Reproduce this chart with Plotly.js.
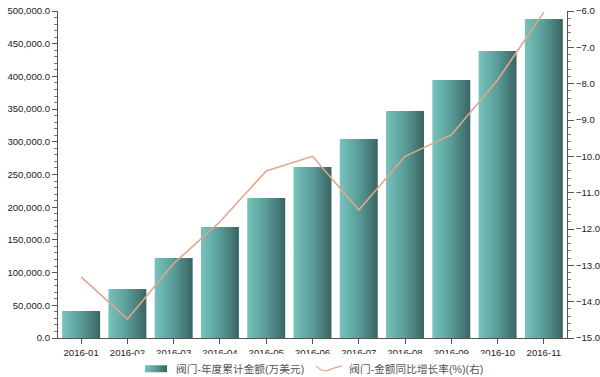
<!DOCTYPE html>
<html>
<head>
<meta charset="utf-8">
<script src="https://cdn.plot.ly/plotly-3.0.1.min.js"></script>
<style>
html,body{margin:0;padding:0;background:#fff;}
#chart{width:600px;height:377px;}
</style>
</head>
<body>
<div id="chart"></div>
<script>
const categories = ["2016-01","2016-02","2016-03","2016-04","2016-05","2016-06","2016-07","2016-08","2016-09","2016-10","2016-11"];
const amountValues = [41300, 74900, 122300, 169700, 214000, 261500, 304300, 347100, 394500, 438800, 487800];
const growthValues = [-13.32, -14.48, -12.95, -11.8, -10.4, -10.0, -11.48, -10.0, -9.41, -7.9, -6.03];
const barName = "阀门-年度累计金额(万美元)";
const lineName = "阀门-金额同比增长率(%)(右)";

const fontFam = "Liberation Sans, Arial, sans-serif";
const cjkFam = "Liberation Sans, Noto Sans CJK SC, sans-serif";

const traces = [
  {
    type: "bar",
    name: barName,
    x: categories,
    y: amountValues,
    marker: {color: "#5a9e99", line: {width: 0}},
    yaxis: "y"
  },
  {
    type: "scatter",
    mode: "lines",
    name: lineName,
    x: categories,
    y: growthValues,
    line: {color: "#e2a78b", width: 1.6},
    yaxis: "y2"
  }
];

const tickFont = {family: fontFam, size: 9.6, color: "#222"};

const layout = {
  width: 600,
  height: 377,
  margin: {l: 58, r: 33, t: 11, b: 39, autoexpand: false},
  paper_bgcolor: "#fff",
  plot_bgcolor: "#fff",
  showlegend: true,
  bargap: 0.18,
  font: {family: fontFam, size: 9.6, color: "#222"},
  xaxis: {
    type: "category",
    range: [-0.5, 10.5],
    showgrid: false,
    zeroline: false,
    showline: true,
    linecolor: "#555",
    linewidth: 1,
    ticks: "outside",
    ticklen: 5,
    tickcolor: "#555",
    tickfont: tickFont
  },
  yaxis: {
    range: [0, 500000],
    dtick: 50000,
    tickformat: ",.1f",
    showgrid: false,
    zeroline: false,
    showline: true,
    linecolor: "#555",
    linewidth: 1,
    ticks: "outside",
    ticklen: 5,
    tickcolor: "#555",
    minor: {dtick: 10000, ticks: "outside", ticklen: 3, tickcolor: "#777", showgrid: false},
    tickfont: tickFont
  },
  yaxis2: {
    overlaying: "y",
    side: "right",
    range: [-15, -6],
    dtick: 1,
    tickformat: ".1f",
    showgrid: false,
    zeroline: false,
    showline: true,
    linecolor: "#555",
    linewidth: 1,
    ticks: "outside",
    ticklen: 6,
    tickcolor: "#555",
    minor: {dtick: 0.2, ticks: "outside", ticklen: 3, tickcolor: "#777", showgrid: false},
    tickfont: tickFont
  },
  legend: {
    orientation: "h",
    x: 0.5,
    xanchor: "center",
    y: -0.05,
    yanchor: "top",
    font: {family: cjkFam, size: 10.7, color: "#555"},
    tracegroupgap: 0
  }
};

Plotly.newPlot("chart", traces, layout, {displayModeBar: false, staticPlot: true}).then(function (gd) {
  const svg = gd.querySelector(".main-svg");
  const ns = "http://www.w3.org/2000/svg";
  let defs = svg.querySelector("defs");
  if (!defs) { defs = document.createElementNS(ns, "defs"); svg.insertBefore(defs, svg.firstChild); }
  const grad = document.createElementNS(ns, "linearGradient");
  grad.setAttribute("id", "barGrad");
  grad.setAttribute("x1", "0"); grad.setAttribute("y1", "0");
  grad.setAttribute("x2", "1"); grad.setAttribute("y2", "0");
  [["0", "#76c3bd"], ["0.5", "#5a9c97"], ["1", "#3a6462"]].forEach(function (s) {
    const st = document.createElementNS(ns, "stop");
    st.setAttribute("offset", s[0]);
    st.setAttribute("stop-color", s[1]);
    grad.appendChild(st);
  });
  defs.appendChild(grad);
  gd.querySelectorAll(".barlayer .point path").forEach(function (p) { p.style.fill = "url(#barGrad)"; });
  gd.querySelectorAll(".legend .traces").forEach(function (t, i) {
    if (i === 0) {
      t.querySelectorAll(".legendpoints path").forEach(function (p) {
        p.setAttribute("d", "M11,3.5H-11V-3.5H11Z");
        p.style.fill = "url(#barGrad)";
        p.style.stroke = "none";
      });
    } else {
      t.querySelectorAll(".legendlines path").forEach(function (p) {
        p.setAttribute("d", "M7,-3 Q13,4 20,1 T33,-3");
        p.style.strokeWidth = "1.2px";
      });
    }
  });
});
</script>
</body>
</html>
